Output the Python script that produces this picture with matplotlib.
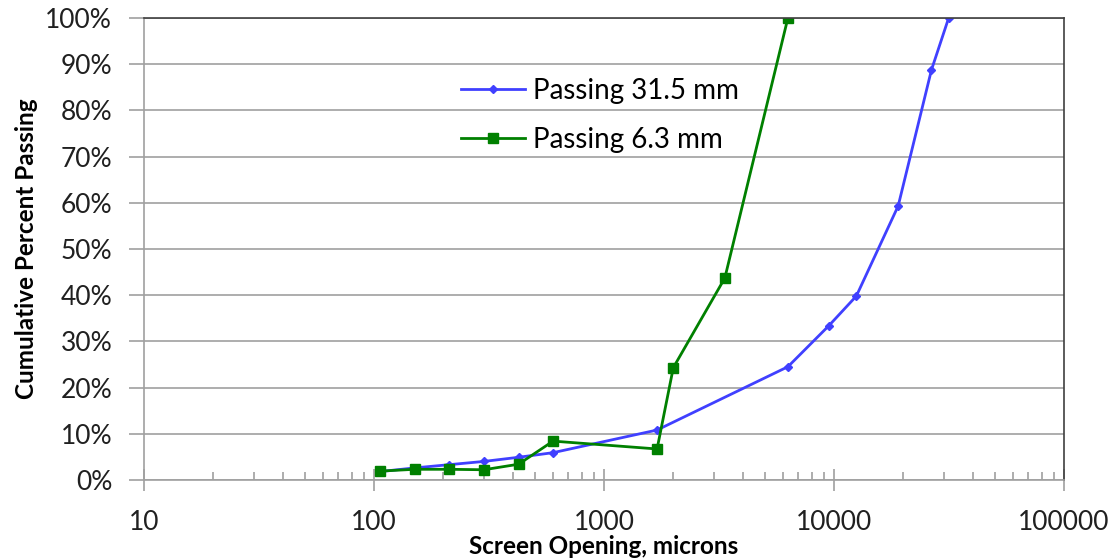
import matplotlib
matplotlib.use('Agg')
import matplotlib.pyplot as plt
from matplotlib.ticker import FuncFormatter, LogLocator, NullFormatter

# sieve sizes (microns) and cumulative passing (%)
sizes_315 = [106, 150, 212, 300, 425, 600, 1700, 6300, 9500, 12500, 19000, 26500, 31500]
passing_315 = [1.8, 2.6, 3.3, 4.0, 4.9, 5.9, 10.8, 24.5, 33.4, 39.8, 59.3, 88.7, 100.0]

sizes_63 = [106, 150, 212, 300, 425, 600, 1700, 2000, 3350, 6300]
passing_63 = [1.9, 2.3, 2.3, 2.2, 3.4, 8.4, 6.7, 24.3, 43.7, 100.0]

y_ticks = [0, 10, 20, 30, 40, 50, 60, 70, 80, 90, 100]
x_ticks = [10, 100, 1000, 10000, 100000]

plt.rcParams['font.family'] = ['Lato', 'DejaVu Sans']


def draw_chart():
    fig = plt.figure(figsize=(11.17, 5.60), dpi=100)
    ax = fig.add_axes([0.129, 0.143, 0.8236, 0.825])

    ax.plot(sizes_315, passing_315, color='#4040ff', lw=2, marker='D', ms=4,
            label='Passing 31.5 mm')
    ax.plot(sizes_63, passing_63, color='#008000', lw=2, marker='s', ms=6.5,
            label='Passing 6.3 mm')

    ax.set_xscale('log')
    ax.set_xlim(10, 100000)
    ax.set_ylim(0, 100)
    ax.set_xticks(x_ticks)
    ax.xaxis.set_major_formatter(FuncFormatter(lambda v, p: f'{int(v)}'))
    ax.xaxis.set_minor_locator(LogLocator(base=10, subs=range(2, 10)))
    ax.xaxis.set_minor_formatter(NullFormatter())
    ax.set_yticks(y_ticks)
    ax.yaxis.set_major_formatter(FuncFormatter(lambda v, p: f'{int(v)}%'))

    ax.grid(axis='y', color='#a0a0a0', lw=1.2)
    ax.set_axisbelow(True)

    for side in ['left', 'bottom']:
        ax.spines[side].set_color('#a0a0a0')
        ax.spines[side].set_linewidth(1.2)
    for side in ['top', 'right']:
        ax.spines[side].set_color('#404040')
        ax.spines[side].set_linewidth(1.2)

    ax.tick_params(axis='x', which='major', direction='inout', length=16, width=1.2,
                   color='#a0a0a0', labelsize=19, pad=14, labelcolor='#202020')
    ax.tick_params(axis='x', which='minor', direction='in', length=6, width=1.2,
                   color='#a0a0a0')
    ax.tick_params(axis='y', which='major', direction='out', length=11, width=1.2,
                   color='#a0a0a0', labelsize=19, pad=12, labelcolor='#202020')

    ax.set_xlabel('Screen Opening, microns', fontsize=17.5, fontweight='bold', labelpad=0)
    ax.set_ylabel('Cumulative Percent Passing', fontsize=17.5, fontweight='bold', labelpad=5)

    ax.legend(loc='upper left', bbox_to_anchor=(0.332, 0.895), frameon=False,
              fontsize=20, handlelength=2.3, handletextpad=0.3, labelspacing=0.85,
              borderaxespad=0)

    fig.savefig('out.png', dpi=100)


if __name__ == "__main__":
    draw_chart()
